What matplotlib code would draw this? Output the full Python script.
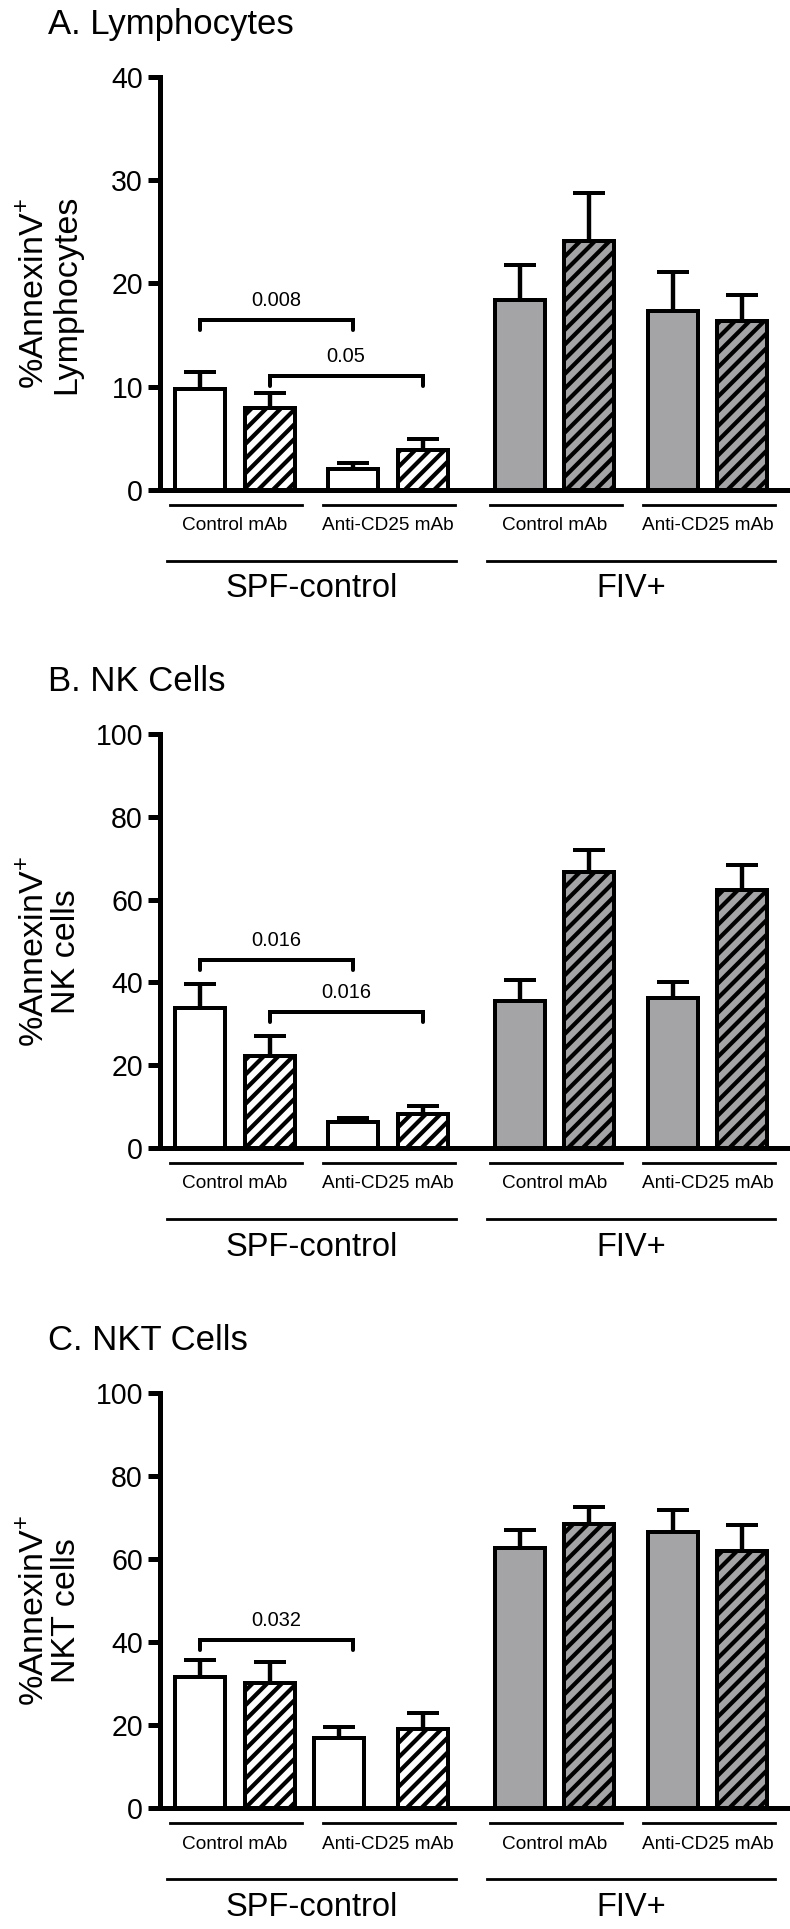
import numpy as np
import matplotlib
matplotlib.use('Agg')
import matplotlib.pyplot as plt
from matplotlib.transforms import blended_transform_factory

# the hatch spacing follows the dpi, so draw at 88 dpi and give all sizes in pixels
DPI = 88


def px(v):
    # pixels -> points at the figure dpi
    return v * 72.0 / DPI


plt.rcParams['font.family'] = ['Liberation Sans', 'DejaVu Sans']
plt.rcParams['mathtext.fontset'] = 'custom'
plt.rcParams['mathtext.rm'] = 'Liberation Sans'
plt.rcParams['hatch.linewidth'] = px(4.2)
plt.rcParams['hatch.color'] = 'black'

# categories
groups = ['SPF-control', 'FIV+']
treatments = ['Control mAb', 'Anti-CD25 mAb']
panel_titles = ['A. Lymphocytes', 'B. NK Cells', 'C. NKT Cells']
cell_names = ['Lymphocytes', 'NK cells', 'NKT cells']
y_max = [40, 100, 100]
y_step = [10, 20, 20]

# % AnnexinV+ (mean and upper error), 8 bars per panel:
# SPF ctrl, SPF ctrl hatched, SPF anti, SPF anti hatched, then the same for FIV+
lymph_mean = [9.8, 7.9, 2.0, 3.9, 18.4, 24.1, 17.3, 16.4]
lymph_err = [1.6, 1.5, 0.6, 1.0, 3.4, 4.7, 3.8, 2.5]
nk_mean = [33.7, 22.2, 6.2, 8.3, 35.5, 66.6, 36.3, 62.3]
nk_err = [5.8, 4.9, 1.1, 1.9, 5.2, 5.3, 3.9, 6.0]
nkt_mean = [31.6, 30.2, 16.8, 19.1, 62.6, 68.5, 66.5, 62.0]
nkt_err = [4.1, 4.9, 2.8, 3.7, 4.5, 4.1, 5.2, 6.3]

# p-value brackets: (bar i, bar j, bracket height, text)
lymph_p = [(0, 2, 16.5, '0.008'), (1, 3, 11.0, '0.05')]
nk_p = [(0, 2, 45.4, '0.016'), (1, 3, 32.9, '0.016')]
nkt_p = [(0, 2, 40.5, '0.032')]

means = [lymph_mean, nk_mean, nkt_mean]
errs = [lymph_err, nk_err, nkt_err]
pvals = [lymph_p, nk_p, nkt_p]

# layout (pixels of the 790x1929 figure)
W, H = 790, 1929
ax_left, ax_right = 160, 788
ax_tops = [77, 734, 1393]
ax_bottoms = [490, 1148, 1808]
ax_h = 414.0

gray = '#a4a4a7'
lw_axis = px(5)
lw_bar = px(4)

# bar positions: pairs inside treatment, treatments inside group
base_pos = np.array([0, 1, 2.2, 3.2, 4.6, 5.6, 6.8, 7.8])
pair_centers = [0.5, 2.7, 5.1, 7.3]
group_centers = [1.6, 6.2]
colors = ['white'] * 4 + [gray] * 4
hatches = ['', '//', '', '//'] * 2

fig = plt.figure(figsize=(W / DPI, H / DPI), dpi=DPI)

for k in range(3):
    rect = [ax_left / W, (H - ax_bottoms[k]) / H,
            (ax_right - ax_left) / W, (ax_bottoms[k] - ax_tops[k]) / H]
    ax = fig.add_axes(rect)
    pos = base_pos.copy()
    if k == 2:
        pos[2] = 2.0   # third bar sits a bit closer in panel C

    for i in range(8):
        ax.bar(pos[i], means[k][i], width=0.72, color=colors[i],
               edgecolor='black', linewidth=lw_bar, hatch=hatches[i], zorder=2)
    ax.errorbar(pos, means[k], yerr=[np.zeros(8), errs[k]], fmt='none',
                ecolor='black', elinewidth=px(4.4), capsize=px(16),
                capthick=px(4), zorder=1)

    ax.set_xlim(-0.58, 8.46)
    ax.set_ylim(0, y_max[k])
    ax.set_yticks(np.arange(0, y_max[k] + 1, y_step[k]))
    ax.set_xticks([])
    ax.tick_params(axis='y', length=px(12), width=lw_axis, labelsize=px(28.5),
                   pad=px(5))
    for s in ['top', 'right']:
        ax.spines[s].set_visible(False)
    for s in ['left', 'bottom']:
        ax.spines[s].set_linewidth(lw_axis)

    # p-value brackets
    drop = y_max[k] * 10 / ax_h
    for (i, j, yb, txt) in pvals[k]:
        x0, x1 = base_pos[i], base_pos[j]
        ax.plot([x0, x0, x1, x1], [yb - drop, yb, yb, yb - drop], color='black',
                lw=px(4), solid_capstyle='round', solid_joinstyle='miter', zorder=3)
        ax.annotate(txt, ((x0 + x1) / 2, yb), xytext=(0, px(14)),
                    textcoords='offset points', ha='center', va='baseline',
                    fontsize=px(20))

    # treatment and group labels below the axis
    trans = blended_transform_factory(ax.transData, ax.transAxes)
    for n, c in enumerate(pair_centers):
        ax.plot([c + 0.02 - 0.95, c + 0.02 + 0.95], [-15 / ax_h] * 2,
                color='black', lw=px(2.8), transform=trans, clip_on=False)
        ax.text(c, -36 / ax_h, treatments[n % 2], transform=trans,
                ha='center', va='center', fontsize=px(19))
    for n, c in enumerate(group_centers):
        ax.plot([c - 2.08, c + 2.08], [-71 / ax_h] * 2, color='black',
                lw=px(2.8), transform=trans, clip_on=False)
        ax.text(c, -99 / ax_h, groups[n], transform=trans, ha='center',
                va='center', fontsize=px(32.6))

    # y label and panel title
    ax.text(-0.175, 0.475, '%AnnexinV$^{+}$\n' + cell_names[k],
            transform=ax.transAxes, rotation=90, ha='center', va='center',
            multialignment='center', fontsize=px(34), linespacing=1.05)
    ax.text(-0.178, 1 + 43 / ax_h, panel_titles[k], transform=ax.transAxes,
            ha='left', va='baseline', fontsize=px(34.7))

fig.savefig('out.png', dpi=DPI)
